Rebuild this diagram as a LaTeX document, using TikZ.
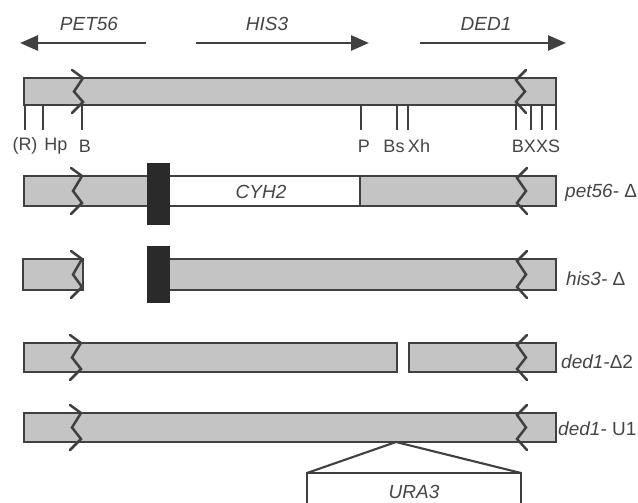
\documentclass[tikz,border=0pt]{standalone}
\usepackage{fontspec}
\setmainfont{Liberation Sans}
\usetikzlibrary{arrows.meta}
\definecolor{ink}{HTML}{404040}
\definecolor{stip}{HTML}{C4C4C4}
\definecolor{blk}{HTML}{2A2A2A}
\definecolor{txt}{HTML}{454545}
\newcommand{\zigleft}[3]{\draw[zig] ({#1-10},{#2-8}) -- ({#1+1},#2) -- ({#1-8},{(#2+#3)/2}) -- ({#1+1},{#3-3}) -- ({#1-10},{#3+8});}
\newcommand{\zigright}[3]{\draw[zig] ({#1+9},{#2-8}) -- ({#1-1},{#2+2}) -- ({#1+8},{(#2+#3)/2}) -- ({#1-1},{#3-3}) -- ({#1+9},{#3+8});}
\begin{document}
\begin{tikzpicture}[x=1pt,y=-1pt,
  bar/.style={draw=ink,fill=stip,line width=2.1pt},
  plain/.style={draw=ink,fill=white,line width=2.1pt},
  blkbox/.style={fill=blk,draw=blk,line width=0.5pt},
  zig/.style={draw=ink,line width=2.5pt,line join=miter,line cap=round},
  sitetick/.style={draw=ink,line width=1.1pt},
  gene/.style={font=\fontsize{19}{21}\selectfont\itshape,text=txt,inner sep=0pt},
  site/.style={font=\fontsize{18}{20}\selectfont,text=txt,inner sep=0pt},
  rowlab/.style={font=\fontsize{19}{21}\selectfont,text=txt,inner sep=0pt,anchor=west},
  dir/.style={draw=ink,line width=2.8pt,-{Triangle[length=18pt,width=15pt]}},
  conn/.style={draw=ink,line width=2.1pt},
]
\useasboundingbox (0,0) rectangle (638,503);

% direction arrows
\node[gene] (lpet) at (89,24) {PET56};
\node[gene] (lhis) at (267,24) {HIS3};
\node[gene] (lded) at (486,24) {DED1};
\coordinate (petA) at (146,43); \coordinate (petB) at (20,43);
\coordinate (hisA) at (196,43); \coordinate (hisB) at (369,43);
\coordinate (dedA) at (420,43); \coordinate (dedB) at (566,43);
\draw[dir] (petA) -- (petB);
\draw[dir] (hisA) -- (hisB);
\draw[dir] (dedA) -- (dedB);

% row 1: map
\draw[bar] (24,78) rectangle (556,105);
\foreach \x in {25,43,82,361,397,408,516,531,542,556}
  \draw[sitetick] (\x,105) -- (\x,130);
\zigleft{82}{78}{105}
\zigright{517}{78}{105}
\node[site] (sR) at (25,146) {(R)};
\node[site] (sHp) at (56,146) {Hp};
\node[site] (sB) at (85,146) {B};
\node[site] (sP) at (364,146) {P};
\node[site] (sBs) at (394,146) {Bs};
\node[site] (sXh) at (419,146) {Xh};
\node[site] (sBXXS) at (536,146) {BXXS};

% row 2: pet56-Delta
\draw[bar] (24,176) rectangle (158,206);
\draw[plain] (158,176) rectangle (360,206);
\draw[bar] (360,176) rectangle (556,206);
\zigleft{81}{176}{206}
\zigright{518}{176}{206}
\fill[blkbox] (147,163) rectangle (169,224);
\node[gene] (lcyh) at (261,192) {CYH2};
\node[rowlab] (r2) at (565,193) {\textit{pet56-} Δ};

% row 3: his3-Delta
\draw[bar] (23,259) rectangle (83,290);
\zigleft{81}{259}{290}
\draw[bar] (160,259) rectangle (556,290);
\zigright{518}{259}{290}
\fill[blkbox] (147,246) rectangle (169,302);
\node[rowlab] (r3) at (566,279) {\textit{his3-} Δ};

% row 4: ded1-Delta2
\draw[bar] (24,343) rectangle (397,372);
\draw[bar] (409,343) rectangle (556,372);
\zigleft{80}{343}{372}
\zigright{518}{343}{372}
\node[rowlab] (r4) at (561,362) {\textit{ded1-}Δ2};

% row 5: ded1-U1
\draw[bar] (24,413) rectangle (556,442);
\zigleft{80}{413}{442}
\zigright{518}{413}{442}
\node[rowlab] (r5) at (558,429) {\textit{ded1-} U1};

% URA3 insertion
\coordinate (apex) at (396,442);
\coordinate (ul) at (307,473);
\coordinate (ur) at (521,473);
\coordinate (bl) at (307,503);
\coordinate (br) at (521,503);
\draw[conn] (ul) -- (apex) -- (ur);
\draw[conn] (bl) -- (ul) -- (ur) -- (br);
\node[gene] (lura) at (414,492) {URA3};
\end{tikzpicture}
\end{document}
